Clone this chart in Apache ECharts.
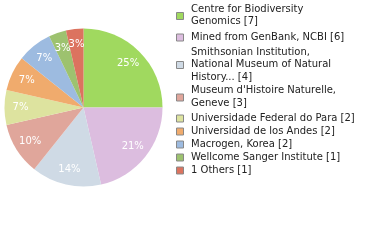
<!DOCTYPE html>
<html><head><meta charset="utf-8">
<script src="https://cdn.jsdelivr.net/npm/echarts@6/dist/echarts.min.js"></script>
<style>html,body{margin:0;padding:0;background:#fff}#c{width:380px;height:240px}</style>
</head><body><div id="c"></div>
<script>
var names = ["Centre for Biodiversity Genomics","Mined from GenBank, NCBI","Smithsonian Institution, National Museum of Natural History...","Museum d'Histoire Naturelle, Geneve","Universidade Federal do Para","Universidad de los Andes","Macrogen, Korea","Wellcome Sanger Institute","1 Others"];
var values = [7,6,4,3,2,2,2,1,1];
var legendLabels = ["Centre for Biodiversity\nGenomics [7]","Mined from GenBank, NCBI [6]","Smithsonian Institution,\nNational Museum of Natural\nHistory... [4]","Museum d'Histoire Naturelle,\nGeneve [3]","Universidade Federal do Para [2]","Universidad de los Andes [2]","Macrogen, Korea [2]","Wellcome Sanger Institute [1]","1 Others [1]"];
var colors = ["#a0d95f","#dcbddf","#cfdae5","#e0a69b","#dde39f","#f0ab6d","#9dbbe0","#9dc26f","#dc735f"];
var legendCenters = [15.5,37,64.5,97,118,131,144,157,170];

var total = values.reduce(function(a,b){return a+b;},0);
var data = names.map(function(n,i){return {name:n,value:values[i],itemStyle:{color:colors[i]}};});
var LH = 12.5;

var legends = [];
names.forEach(function(n,i){
  legends.push({
    data:[n], orient:'vertical', left:176, top:legendCenters[i]-3.5, padding:0,
    itemWidth:7, itemHeight:7, selectedMode:false, icon:'rect',
    itemStyle:{borderColor:'#888',borderWidth:1},
    textStyle:{fontSize:1,lineHeight:1,color:'rgba(0,0,0,0)'},
    formatter:function(){return ' ';}
  });
  var lines = legendLabels[i].split('\n');
  lines.forEach(function(s,j){
    var cy = legendCenters[i] + (j-(lines.length-1)/2)*LH;
    legends.push({
      data:[n], orient:'vertical', left:176, top:cy-LH/2, padding:0,
      itemWidth:7, itemHeight:7, selectedMode:false, icon:'none',
      textStyle:{fontFamily:'DejaVu Sans',fontSize:10,color:'#222',lineHeight:LH,padding:[0,0,0,3]},
      formatter:function(){return s;}
    });
  });
});

var chart = echarts.init(document.getElementById('c'),null,{renderer:'canvas'});
chart.setOption({
  animation:false,
  legend:legends,
  series:[{
    type:'pie', center:[83.5,107.5], radius:[0,79], startAngle:90, clockwise:true,
    label:{show:false}, labelLine:{show:false}, data:data, silent:true,
    itemStyle:{borderWidth:0}
  },{
    type:'pie', center:[83.5,107.5], radius:[42,78], startAngle:90, clockwise:true,
    silent:true, legendHoverLink:false, avoidLabelOverlap:false,
    labelLayout:{hideOverlap:false},
    itemStyle:{color:'transparent',borderWidth:0},
    label:{show:true,position:'inside',color:'#fff',fontFamily:'DejaVu Sans',fontSize:10,
      formatter:function(p){return Math.floor(p.value/total*100)+'%';}},
    labelLine:{show:false},
    data:names.map(function(n,i){return {name:n+' ',value:values[i]};})
  }]
});
</script></body></html>
